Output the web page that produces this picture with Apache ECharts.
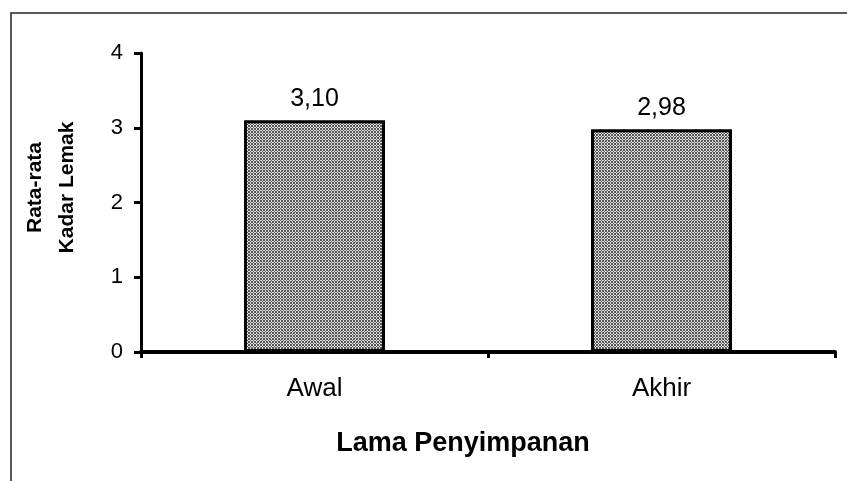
<!DOCTYPE html>
<html>
<head>
<meta charset="utf-8">
<script src="https://cdn.jsdelivr.net/npm/echarts@6/dist/echarts.min.js"></script>
<style>
html,body{margin:0;padding:0;background:#fff;}
#chart{width:847px;height:481px;}
</style>
</head>
<body>
<div id="chart"></div>
<script>
var categories = ['Awal', 'Akhir'];
var values = [3.10, 2.98];
var valueLabels = ['3,10', '2,98'];
var yTicks = [0, 1, 2, 3, 4];
var xTitle = 'Lama Penyimpanan';
var yTitle = 'Rata-rata\nKadar Lemak';

function makePattern() {
  var c = document.createElement('canvas');
  c.width = 3; c.height = 3;
  var ctx = c.getContext('2d');
  ctx.fillStyle = '#e0e0e0';
  ctx.fillRect(0, 0, 3, 3);
  ctx.fillStyle = '#555555';
  var dark = [[0, 0], [1, 1], [2, 2], [2, 0], [0, 2]];
  for (var i = 0; i < dark.length; i++) ctx.fillRect(dark[i][0], dark[i][1], 1, 1);
  return c;
}

var chart = echarts.init(document.getElementById('chart'), null, {renderer: 'canvas'});
var font = 'Liberation Sans, Arial, sans-serif';
chart.setOption({
  backgroundColor: '#fff',
  animation: false,
  grid: {left: 141, right: 12, top: 53, bottom: 129, containLabel: false},
  graphic: [{
    type: 'polyline',
    shape: {points: [[11, 481], [11, 13], [847, 13]]},
    style: {stroke: '#222', lineWidth: 1.5, fill: null},
    silent: true
  }],
  xAxis: {
    type: 'category',
    data: categories,
    boundaryGap: true,
    axisLine: {lineStyle: {color: '#000', width: 4}},
    axisTick: {show: true, length: 6, lineStyle: {color: '#000', width: 3}},
    axisLabel: {color: '#000', fontFamily: font, fontSize: 26, margin: 24},
    name: xTitle,
    nameLocation: 'middle',
    nameGap: 78,
    nameTextStyle: {color: '#000', fontFamily: font, fontSize: 27, fontWeight: 'bold', padding: [0, 50, 0, 0]}
  },
  yAxis: {
    type: 'value',
    min: yTicks[0],
    max: yTicks[yTicks.length - 1],
    interval: 1,
    splitLine: {show: false},
    axisLine: {show: true, lineStyle: {color: '#000', width: 3}},
    axisTick: {show: true, length: 7, lineStyle: {color: '#000', width: 3}},
    axisLabel: {color: '#000', fontFamily: font, fontSize: 22, margin: 18},
    name: yTitle,
    nameLocation: 'middle',
    nameRotate: 90,
    nameGap: 58,
    nameTextStyle: {color: '#000', fontFamily: font, fontSize: 21, fontWeight: 'bold', lineHeight: 32, padding: [0, 0, 0, 30]}
  },
  series: [{
    type: 'bar',
    data: values,
    barWidth: 141,
    itemStyle: {
      color: {image: makePattern(), repeat: 'repeat'},
      borderColor: '#000',
      borderWidth: 3
    },
    label: {
      show: true,
      position: 'top',
      distance: 9,
      color: '#000',
      fontFamily: font,
      fontSize: 25,
      formatter: function (p) { return valueLabels[p.dataIndex]; }
    }
  }]
});
</script>
</body>
</html>
